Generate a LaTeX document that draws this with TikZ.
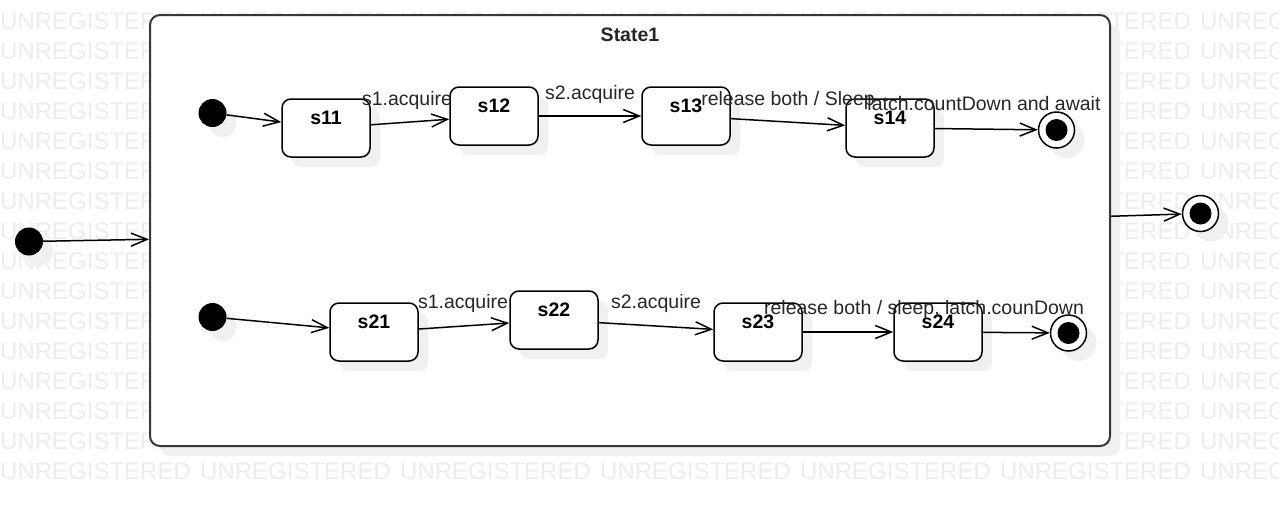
\documentclass[tikz,border=0pt]{standalone}
\usepackage{fontspec}
\setmainfont{Liberation Sans}
\usetikzlibrary{arrows.meta,shadows}
\newcommand\umlfont{\fontsize{19.5}{23}\selectfont}
\newcommand\wmfont{\fontsize{24}{28}\selectfont}

\begin{document}
\begin{tikzpicture}[x=1pt, y=-1pt,
    umlshadow/.style={drop shadow={shadow xshift=10pt, shadow yshift=-10pt, fill=black!6, opacity=1}},
    wm/.style={anchor=base west, inner sep=0pt, font=\wmfont, text=black!7},
    superstate/.style={draw=black!78, line width=2pt, fill=white, rounded corners=10pt,
      minimum width=960pt, minimum height=431pt, inner sep=0pt, umlshadow},
    state/.style={draw, line width=1.5pt, fill=white, rounded corners=9pt, umlshadow,
      minimum width=88pt, text height=25pt, text depth=33pt, inner sep=0pt, font=\umlfont\bfseries},
    init/.style={circle, fill=black, minimum size=28pt, inner sep=0pt, umlshadow},
    final/.style={circle, draw, line width=1.5pt, fill=white, minimum size=36pt, inner sep=0pt, umlshadow,
      path picture={\fill[black] (path picture bounding box.center) circle (11pt);}},
    trans/.style={-{Straight Barb[length=16pt, width=13pt]}, line width=1.5pt},
    lbl/.style={anchor=base, inner sep=0pt, font=\umlfont, text=black!85}]
  \useasboundingbox (0,0) rectangle (1279,507);
  \fill[white] (0,0) rectangle (1279,507);
  % watermark
  \foreach \r in {0,...,15}
    \foreach \c in {0,...,6}
      \node [wm] at (\c*200, 29.5+\r*30) {UNREGISTERED};

  \draw (  29, 241.5) node [init] (i0) {}
        ( 630, 230.5) node [superstate] (State1) {}
        ( 630,  41) node [lbl, font=\umlfont\bfseries] (t1) {State1}
        (1200.5, 213.5) node [final] (f0) {};

  % upper region
  \draw ( 212.5, 113) node [init] (i1) {}
        ( 326, 128) node [state] (s11) {s11}
        ( 494, 116) node [state] (s12) {s12}
        ( 686, 116) node [state] (s13) {s13}
        ( 890, 128) node [state] (s14) {s14}
        (1056.5, 130) node [final] (f1) {};

  % lower region
  \draw ( 212.5, 317) node [init] (i2) {}
        ( 374, 332) node [state] (s21) {s21}
        ( 554, 320) node [state] (s22) {s22}
        ( 758, 332) node [state] (s23) {s23}
        ( 938, 332) node [state] (s24) {s24}
        (1068.5, 333) node [final] (f2) {};

  \draw (i0) edge [trans] (State1)
        (State1) edge [trans] (f0)
        (i1) edge [trans] (s11)
        (s11) edge [trans] (s12)
        (s12) edge [trans] (s13)
        (s13) edge [trans] (s14)
        (s14) edge [trans] (f1)
        (i2) edge [trans] (s21)
        (s21) edge [trans] (s22)
        (s22) edge [trans] (s23)
        (s23) edge [trans] (s24)
        (s24) edge [trans] (f2);

  \draw (407, 105) node [lbl] (l11) {s1.acquire}
        (590,  99) node [lbl] (l12) {s2.acquire}
        (788, 105) node [lbl] (l13) {release both / Sleep}
        (984, 110) node [lbl] (l14) {latch.countDown and await}
        (463, 308) node [lbl] (l21) {s1.acquire}
        (656, 308) node [lbl] (l22) {s2.acquire}
        (924, 314) node [lbl] (l23) {release both / sleep, latch.counDown};
\end{tikzpicture}
\end{document}
